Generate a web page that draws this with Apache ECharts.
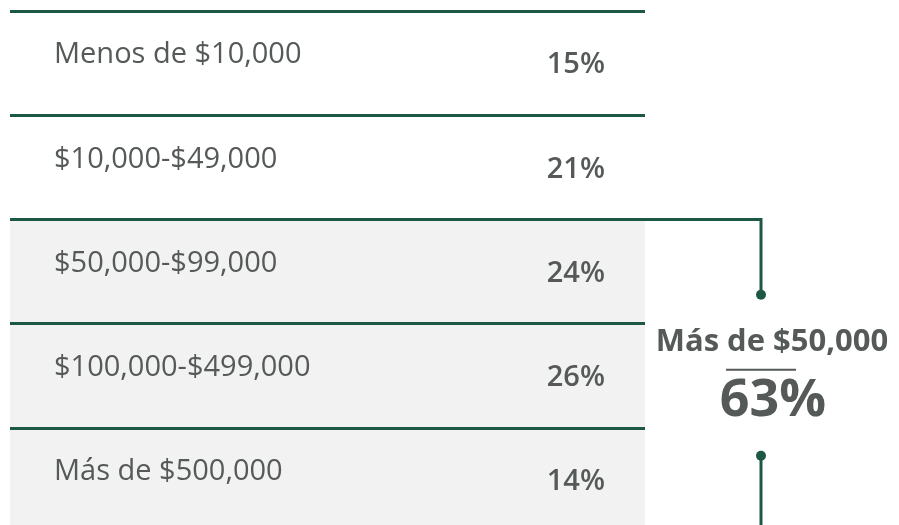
<!DOCTYPE html>
<html>
<head>
<meta charset="utf-8">
<script src="https://cdn.jsdelivr.net/npm/echarts@6/dist/echarts.min.js"></script>
<style>
  html, body { margin: 0; padding: 0; background: #fff; }
  #chart { width: 899px; height: 525px; }
</style>
</head>
<body>
<div id="chart"></div>
<script>
// datos
const categories = ['Menos de $10,000', '$10,000-$49,000', '$50,000-$99,000', '$100,000-$499,000', 'Más de $500,000'];
const shares = [15, 21, 24, 26, 14];
const inGroup = [false, false, true, true, true];
const groupLabel = 'Más de $50,000';
const groupTotal = 63;

const GREEN = '#1d5843';
const TEXT = '#555a59';
const FONT = '"Open Sans", sans-serif';

const chart = echarts.init(document.getElementById('chart'));

const rowData = categories.map((c, i) => [0, i, shares[i]]);
const bgData = categories.map((c, i) => (inGroup[i] ? 100 : '-'));
const firstIdx = inGroup.indexOf(true);
const lastIdx = inGroup.lastIndexOf(true);

chart.setOption({
  animation: false,
  grid: { left: 10, top: 11, width: 635, height: 521, outerBoundsMode: 'none', containLabel: false },
  xAxis: { type: 'value', min: 0, max: 100, show: false },
  yAxis: {
    type: 'category',
    data: categories,
    inverse: true,
    boundaryGap: true,
    z: 5,
    axisLine: { show: false },
    axisTick: { show: false },
    axisLabel: { show: false },
    splitLine: { show: true, interval: 0, lineStyle: { color: GREEN, width: 3 } }
  },
  series: [
    {
      // fondo gris del grupo
      type: 'bar',
      data: bgData,
      barWidth: '100%',
      itemStyle: { color: '#f2f2f2' },
      silent: true,
      z: 1
    },
    {
      // textos de cada fila
      type: 'custom',
      data: rowData,
      encode: { x: 0, y: 1 },
      clip: false,
      z: 3,
      renderItem: function (params, api) {
        const idx = api.value(1);
        const left = api.coord([0, idx]);
        const right = api.coord([100, idx]);
        return {
          type: 'group',
          children: [
            {
              type: 'text',
              style: {
                text: categories[idx],
                x: left[0] + 44,
                y: left[1] - 8,
                align: 'left',
                verticalAlign: 'middle',
                font: 'normal 29px ' + FONT,
                fill: TEXT
              }
            },
            {
              type: 'text',
              style: {
                text: api.value(2) + '%',
                x: right[0] - 40,
                y: right[1] + 2,
                align: 'right',
                verticalAlign: 'middle',
                font: '600 29px ' + FONT,
                fill: TEXT
              }
            }
          ]
        };
      }
    },
    {
      // llave del grupo
      type: 'custom',
      data: [[100, firstIdx, lastIdx, groupTotal]],
      encode: { x: 0, y: 1 },
      clip: false,
      z: 6,
      renderItem: function (params, api) {
        const band = api.size([0, 1])[1];
        const a = api.coord([api.value(0), api.value(1)]);
        const b = api.coord([api.value(0), api.value(2)]);
        const top = a[1] - band / 2;
        const bottom = b[1] + band / 2;
        const mid = (top + bottom) / 2;
        const bx = a[0] + 116;
        const lineStyle = { stroke: GREEN, lineWidth: 3, fill: null };
        return {
          type: 'group',
          children: [
            { type: 'polyline', shape: { points: [[a[0] - 2, top], [bx, top], [bx, mid - 81]] }, style: lineStyle },
            { type: 'circle', shape: { cx: bx, cy: mid - 81, r: 5 }, style: { fill: GREEN } },
            { type: 'polyline', shape: { points: [[bx, mid + 80], [bx, bottom]] }, style: lineStyle },
            { type: 'circle', shape: { cx: bx, cy: mid + 80, r: 5 }, style: { fill: GREEN } },
            {
              type: 'text',
              style: {
                text: groupLabel, x: bx + 11, y: mid - 34,
                align: 'center', verticalAlign: 'middle',
                font: 'bold 31px ' + FONT, fill: TEXT
              }
            },
            { type: 'line', shape: { x1: bx - 35, y1: mid - 6, x2: bx + 35, y2: mid - 6 }, style: { stroke: TEXT, lineWidth: 2 } },
            {
              type: 'text',
              style: {
                text: api.value(3) + '%', x: bx + 12, y: mid + 25,
                align: 'center', verticalAlign: 'middle',
                font: 'bold 52px ' + FONT, fill: TEXT
              }
            }
          ]
        };
      }
    }
  ]
});
</script>
</body>
</html>
